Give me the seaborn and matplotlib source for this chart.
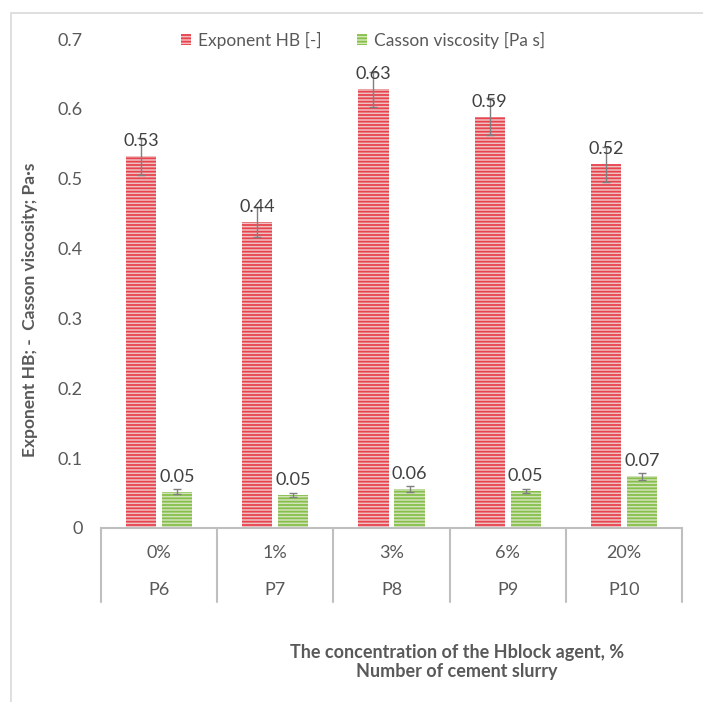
import numpy as np
import pandas as pd
import matplotlib
matplotlib.use("Agg")
import matplotlib.pyplot as plt
import matplotlib.transforms as mtransforms
from matplotlib.patches import Patch, Rectangle
import seaborn as sns

# data
samples = ["P6", "P7", "P8", "P9", "P10"]
concentrations = ["0%", "1%", "3%", "6%", "20%"]
exponent_hb = [0.532, 0.438, 0.628, 0.589, 0.521]
exponent_err = [0.026, 0.022, 0.025, 0.026, 0.025]
casson_visc = [0.052, 0.047, 0.056, 0.053, 0.074]
casson_err = [0.004, 0.003, 0.004, 0.003, 0.005]
series_names = ["Exponent HB [-]", "Casson viscosity [Pa s]"]

RED_FACE, RED_LINE = "#f5b9bc", "#e8434d"
GREEN_FACE, GREEN_LINE = "#d3e8b5", "#86bf4a"
TEXT = "#595959"

df = pd.DataFrame({
    "sample": samples * 2,
    "value": exponent_hb + casson_visc,
    "err": exponent_err + casson_err,
    "series": [series_names[0]] * 5 + [series_names[1]] * 5,
})

sns.set_style("white")
plt.rcParams["font.family"] = ["Lato", "DejaVu Sans"]
plt.rcParams["hatch.linewidth"] = 1.3

fig = plt.figure(figsize=(7.03, 7.02), dpi=100)
ax = fig.add_axes([101 / 703, 1 - 528 / 702, 581 / 703, 489 / 702])

sns.barplot(
    data=df, x="sample", y="value", hue="series", order=samples,
    palette=[RED_FACE, GREEN_FACE], width=0.62, gap=0.16,
    errorbar=None, legend=False, ax=ax,
)

# hatch the bars with horizontal stripes, errorbars + value labels
for bars, line_col, errs in zip(ax.containers, [RED_LINE, GREEN_LINE],
                                [exponent_err, casson_err]):
    for bar, e in zip(bars, errs):
        bar.set_hatch("-----")
        bar.set_edgecolor(line_col)
        bar.set_linewidth(0)
        xc = bar.get_x() + bar.get_width() / 2
        h = bar.get_height()
        ax.errorbar(xc, h, yerr=e, color="#7f7f7f", elinewidth=1,
                    capsize=3, capthick=1)
        ax.annotate(f"{h:.2f}", (xc, h), xytext=(0, 5),
                    textcoords="offset points", ha="center", va="bottom",
                    fontsize=13, color="#404040")

ax.set_xlim(-0.5, 4.5)
ax.set_ylim(0, 0.7)
ax.set_yticks(np.arange(0, 0.71, 0.1))
ax.set_yticklabels(["0"] + [f"{t:.1f}" for t in np.arange(0.1, 0.71, 0.1)])
ax.tick_params(axis="y", length=0, labelsize=13, labelcolor=TEXT, pad=13)
ax.set_xticks([])
ax.set_xlabel("")
ax.set_ylabel("")
for s in ["top", "right", "left"]:
    ax.spines[s].set_visible(False)
ax.spines["bottom"].set_color("#bfbfbf")
ax.spines["bottom"].set_linewidth(1.5)

# two-row category table under the axis
trans = mtransforms.blended_transform_factory(ax.transData, ax.transAxes)
for i, (c, s) in enumerate(zip(concentrations, samples)):
    ax.text(i, -0.052, c, transform=trans, ha="center", va="center",
            fontsize=13, color=TEXT)
    ax.text(i, -0.127, s, transform=trans, ha="center", va="center",
            fontsize=13, color=TEXT)
for xs in np.arange(-0.5, 5, 1):
    ax.plot([xs, xs], [0, -0.151], transform=trans, color="#bfbfbf",
            lw=1.5, clip_on=False)

fig.text(30 / 703, 1 - 310 / 702, "Exponent HB; -  Casson viscosity; Pa\u00b7s",
         rotation=90, ha="center", va="center", fontsize=12.5,
         fontweight="bold", color=TEXT)
fig.text(457 / 703, 1 - 662 / 702,
         "The concentration of the Hblock agent, %\nNumber of cement slurry",
         ha="center", va="center", fontsize=13, fontweight="bold",
         color=TEXT, linespacing=1.15)

handles = [
    Patch(facecolor=RED_FACE, edgecolor=RED_LINE, hatch="-----", lw=0),
    Patch(facecolor=GREEN_FACE, edgecolor=GREEN_LINE, hatch="-----", lw=0),
]
fig.legend(handles, series_names, loc="center",
           bbox_to_anchor=(363 / 703, 1 - 40 / 702), ncol=2, frameon=False,
           handlelength=0.6, handleheight=0.6, handletextpad=0.4,
           columnspacing=2.0, fontsize=12.5, labelcolor=TEXT)

# light frame around the chart area
fig.patches.append(Rectangle((11 / 703, -0.05), 1.2, 1.05 - 13 / 702,
                             transform=fig.transFigure, fill=False,
                             edgecolor="#d9d9d9", lw=1.2))

fig.savefig("out.png", dpi=100)
